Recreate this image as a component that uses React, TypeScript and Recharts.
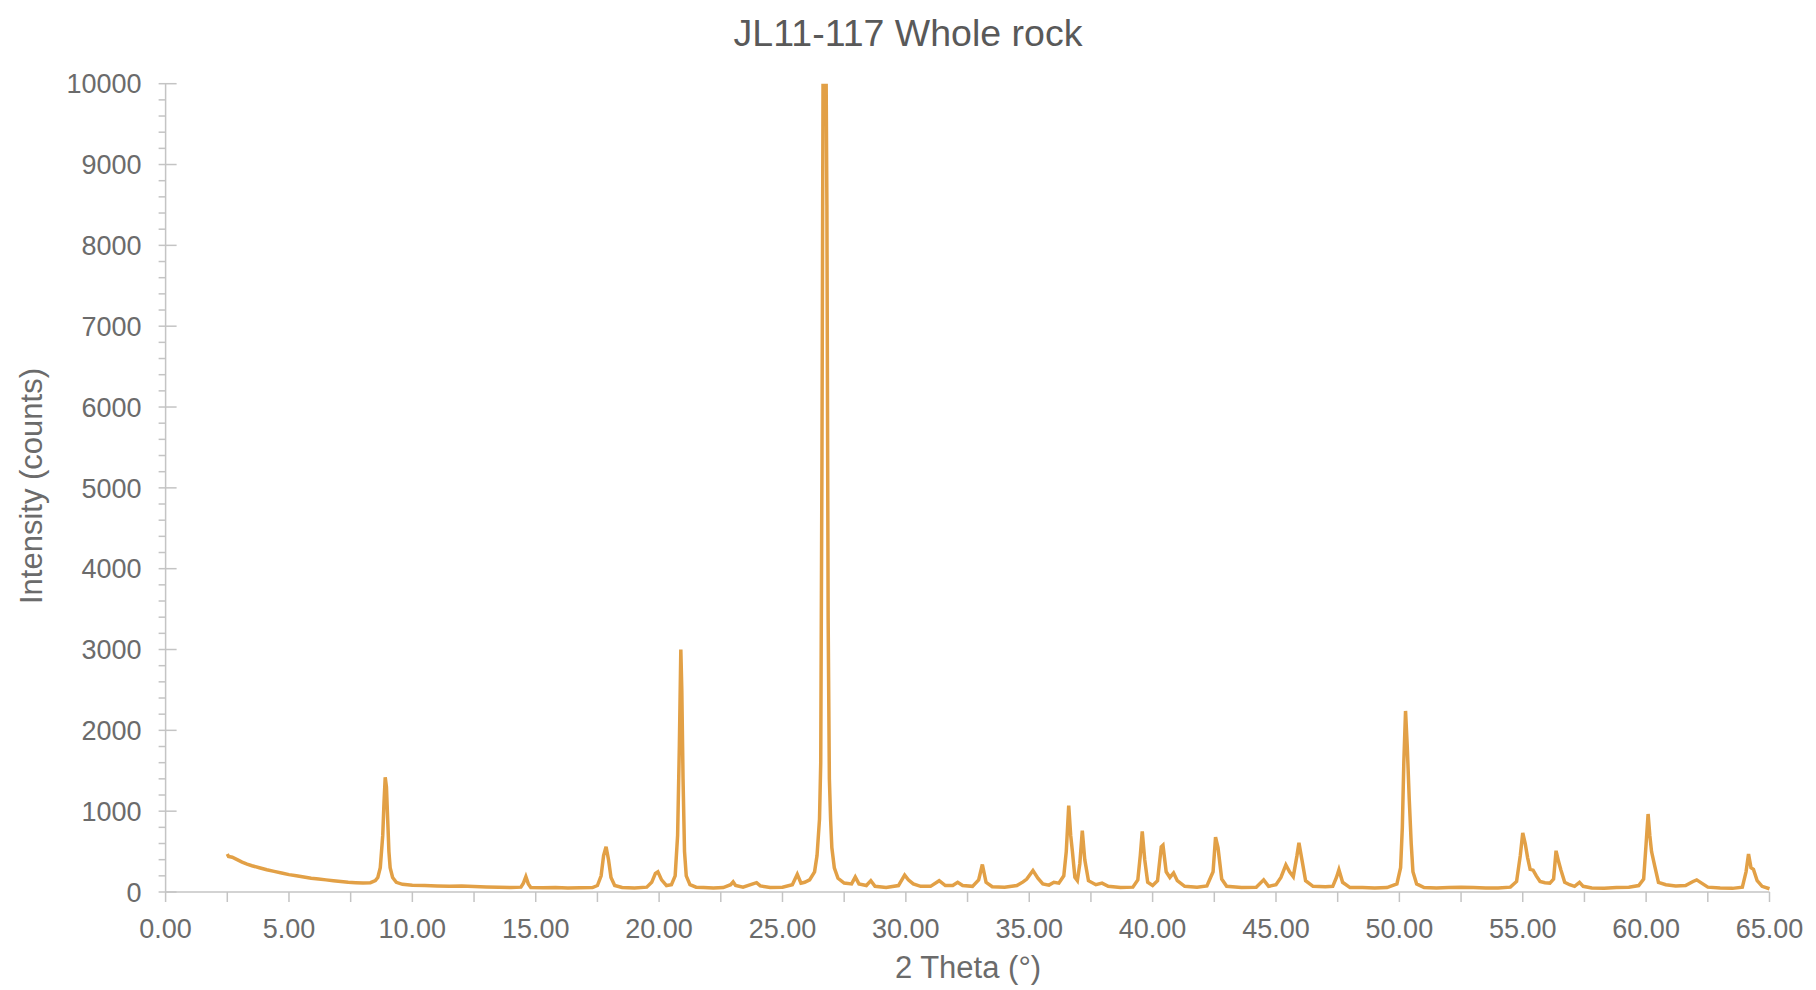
import { Line, LineChart, XAxis, YAxis } from "recharts";

const LINE = "#E2A046";
const AXIS = "#C4C4C4";
const TEXT = "#6B6B6B";
const FONT = "'Liberation Sans', Arial, sans-serif";

const TITLE = "JL11-117 Whole rock";
const X_LABEL = "2 Theta (°)";
const Y_LABEL = "Intensity (counts)";

// 2θ positions (degrees)
const twoTheta = [
  2.5, 2.55, 2.7, 2.9, 3.1, 3.3, 3.5, 3.8, 4.1, 4.4, 4.7, 5.0, 5.3, 5.6, 5.9, 6.2, 6.5, 6.8, 7.1, 7.4, 7.7, 8.0,
  8.3, 8.5, 8.6, 8.7, 8.8, 8.85, 8.9, 8.95, 9.0, 9.05, 9.1, 9.2, 9.35, 9.6, 10.0, 10.5, 11.0, 11.5, 12.0, 12.5,
  13.0, 13.5, 14.0, 14.4, 14.5, 14.6, 14.7, 14.8, 15.3, 15.8, 16.3, 16.8, 17.3, 17.5, 17.65, 17.75, 17.85, 17.95,
  18.05, 18.2, 18.5, 19.0, 19.5, 19.7, 19.85, 19.95, 20.1, 20.3, 20.5, 20.65, 20.75, 20.82, 20.88, 20.92, 20.97,
  21.03, 21.1, 21.25, 21.5, 21.8, 22.2, 22.6, 22.9, 23.0, 23.1, 23.4, 23.8, 23.95, 24.1, 24.5, 25.0, 25.4, 25.6,
  25.75, 25.9, 26.1, 26.3, 26.4, 26.5, 26.55, 26.6, 26.65, 26.75, 26.8, 26.85, 26.9, 26.95, 27.0, 27.1, 27.25,
  27.5, 27.8, 27.95, 28.1, 28.4, 28.58, 28.75, 29.2, 29.7, 29.95, 30.1, 30.3, 30.6, 31.0, 31.35, 31.6, 31.9, 32.1,
  32.3, 32.7, 32.95, 33.1, 33.25, 33.5, 34.0, 34.5, 34.75, 34.9, 35.15, 35.35, 35.55, 35.8, 36.0, 36.2, 36.4,
  36.5, 36.6, 36.68, 36.75, 36.85, 36.95, 37.05, 37.15, 37.25, 37.4, 37.7, 37.95, 38.2, 38.7, 39.2, 39.4, 39.5,
  39.58, 39.68, 39.8, 40.0, 40.2, 40.35, 40.42, 40.55, 40.7, 40.85, 41.0, 41.3, 41.8, 42.2, 42.45, 42.55, 42.65,
  42.8, 43.0, 43.6, 44.2, 44.5, 44.7, 45.0, 45.2, 45.4, 45.55, 45.7, 45.85, 45.93, 46.05, 46.2, 46.5, 47.0, 47.3,
  47.45, 47.55, 47.7, 48.0, 48.5, 49.0, 49.5, 49.9, 50.05, 50.12, 50.18, 50.25, 50.32, 50.4, 50.48, 50.55, 50.7,
  51.0, 51.5, 52.0, 52.5, 53.0, 53.5, 54.0, 54.5, 54.75, 54.9, 55.0, 55.1, 55.2, 55.3, 55.42, 55.55, 55.7, 55.9,
  56.1, 56.25, 56.35, 56.45, 56.55, 56.7, 56.9, 57.1, 57.3, 57.45, 57.8, 58.3, 58.8, 59.3, 59.7, 59.9, 60.0,
  60.08, 60.15, 60.22, 60.35, 60.5, 60.8, 61.2, 61.6, 61.9, 62.05, 62.25, 62.5, 63.0, 63.5, 63.9, 64.05, 64.15,
  64.25, 64.35, 64.5, 64.7, 65.0,
];

// intensity (counts) at each 2θ above
const counts = [
  470, 440, 430, 400, 370, 345, 325, 300, 275, 255, 235, 215, 200, 185, 170, 160, 150, 140, 130, 120, 115, 110,
  115, 140, 180, 300, 700, 1100, 1420, 1300, 900, 500, 300, 180, 120, 95, 85, 80, 75, 70, 75, 68,
  62, 58, 55, 60, 110, 190, 100, 55, 52, 55, 50, 52, 55, 80, 200, 450, 560, 400,
  180, 80, 55, 50, 60, 120, 230, 250, 150, 80, 90, 200, 700, 1800, 3000, 2500, 1400,
  500, 200, 90, 60, 55, 50, 55, 90, 125, 80, 60, 100, 115, 75, 55, 60, 90, 220,
  110, 120, 150, 250, 450, 900, 1600, 5400, 10800, 11000, 8500, 3400, 1400, 900, 550, 300, 170,
  110, 100, 185, 100, 80, 140, 70, 55, 80, 210, 150, 100, 70, 70, 140, 80, 80, 120,
  80, 70, 150, 340, 120, 65, 60, 80, 125, 160, 265, 170, 100, 85, 120, 110, 200,
  500, 1070, 700, 500, 180, 140, 350, 760, 400, 140, 90, 110, 70, 55, 60, 150, 450,
  750, 400, 120, 80, 140, 560, 580, 250, 180, 235, 140, 70, 60, 75, 250, 680, 550,
  160, 70, 55, 60, 150, 70, 90, 180, 335, 250, 190, 450, 610, 400, 140, 70, 65, 70,
  180, 275, 120, 55, 55, 50, 55, 100, 300, 800, 1600, 2240, 1800, 1150, 600, 250, 100,
  55, 50, 55, 60, 55, 50, 50, 60, 130, 450, 730, 600, 420, 280, 270, 200, 130, 115,
  110, 160, 510, 380, 270, 120, 90, 70, 120, 70, 50, 45, 55, 60, 80, 160, 600,
  965, 700, 500, 320, 120, 90, 75, 80, 130, 150, 110, 60, 50, 45, 60, 250, 470,
  300, 280, 140, 70, 40,
];

const xTicks = [0, 2.5, 5, 7.5, 10, 12.5, 15, 17.5, 20, 22.5, 25, 27.5, 30, 32.5, 35, 37.5, 40, 42.5, 45, 47.5, 50, 52.5, 55, 57.5, 60, 62.5, 65];
const yMajor = [0, 1000, 2000, 3000, 4000, 5000, 6000, 7000, 8000, 9000, 10000];
const yTicks = yMajor.flatMap((v, i) => (i === 0 ? [v] : [v - 800, v - 600, v - 400, v - 200, v]));

const data = twoTheta.map((t, i) => ({ t, c: counts[i] }));

function YTick(props: any) {
  const { x, y, payload } = props;
  const major = payload.value % 1000 === 0;
  return (
    <g>
      <line x1={x - 7} x2={major ? x + 11 : x} y1={y} y2={y} stroke={AXIS} strokeWidth={1.5} />
      {major && (
        <text x={x - 24} y={y} dy="0.36em" textAnchor="end" fill={TEXT} fontSize={27} fontFamily={FONT}>
          {payload.value}
        </text>
      )}
    </g>
  );
}

function XTick(props: any) {
  const { x, y, payload } = props;
  const major = payload.value % 5 === 0;
  return (
    <g>
      <line x1={x} x2={x} y1={y} y2={y + 10} stroke={AXIS} strokeWidth={1.5} />
      {major && (
        <text x={x} y={y + 46} textAnchor="middle" fill={TEXT} fontSize={27} fontFamily={FONT}>
          {payload.value.toFixed(2)}
        </text>
      )}
    </g>
  );
}

export default function App() {
  return (
    <div style={{ position: "relative", width: 1800, height: 982, background: "white" }}>
      <LineChart width={1800} height={974} data={data} margin={{ top: 75.7, right: 38.5, left: 97.6, bottom: 30 }}>
        <XAxis
          dataKey="t"
          type="number"
          domain={[0, 65]}
          ticks={xTicks}
          interval={0}
          height={60}
          tickSize={0}
          tickMargin={0}
          tickLine={false}
          axisLine={{ stroke: AXIS, strokeWidth: 1.5 }}
          tick={<XTick />}
        />
        <YAxis
          type="number"
          domain={[0, 10000]}
          allowDataOverflow
          ticks={yTicks}
          interval={0}
          width={60}
          tickSize={0}
          tickMargin={0}
          tickLine={false}
          axisLine={{ stroke: AXIS, strokeWidth: 1.5 }}
          tick={<YTick />}
        />
        <Line
          type="linear"
          dataKey="c"
          stroke={LINE}
          strokeWidth={3.5}
          dot={false}
          activeDot={false}
          isAnimationActive={false}
        />
      </LineChart>
      <svg
        width={1800}
        height={982}
        style={{ position: "absolute", left: 0, top: 0, pointerEvents: "none" }}
      >
        <text x={900} y={38} textAnchor="middle" fill="#595959" fontSize={37.5} fontFamily={FONT}>
          {TITLE}
        </text>
        <text x={960} y={970} textAnchor="middle" fill={TEXT} fontSize={31} fontFamily={FONT}>
          {X_LABEL}
        </text>
        <text
          transform="translate(34,478) rotate(-90)"
          textAnchor="middle"
          fill={TEXT}
          fontSize={31}
          fontFamily={FONT}
        >
          {Y_LABEL}
        </text>
      </svg>
    </div>
  );
}
